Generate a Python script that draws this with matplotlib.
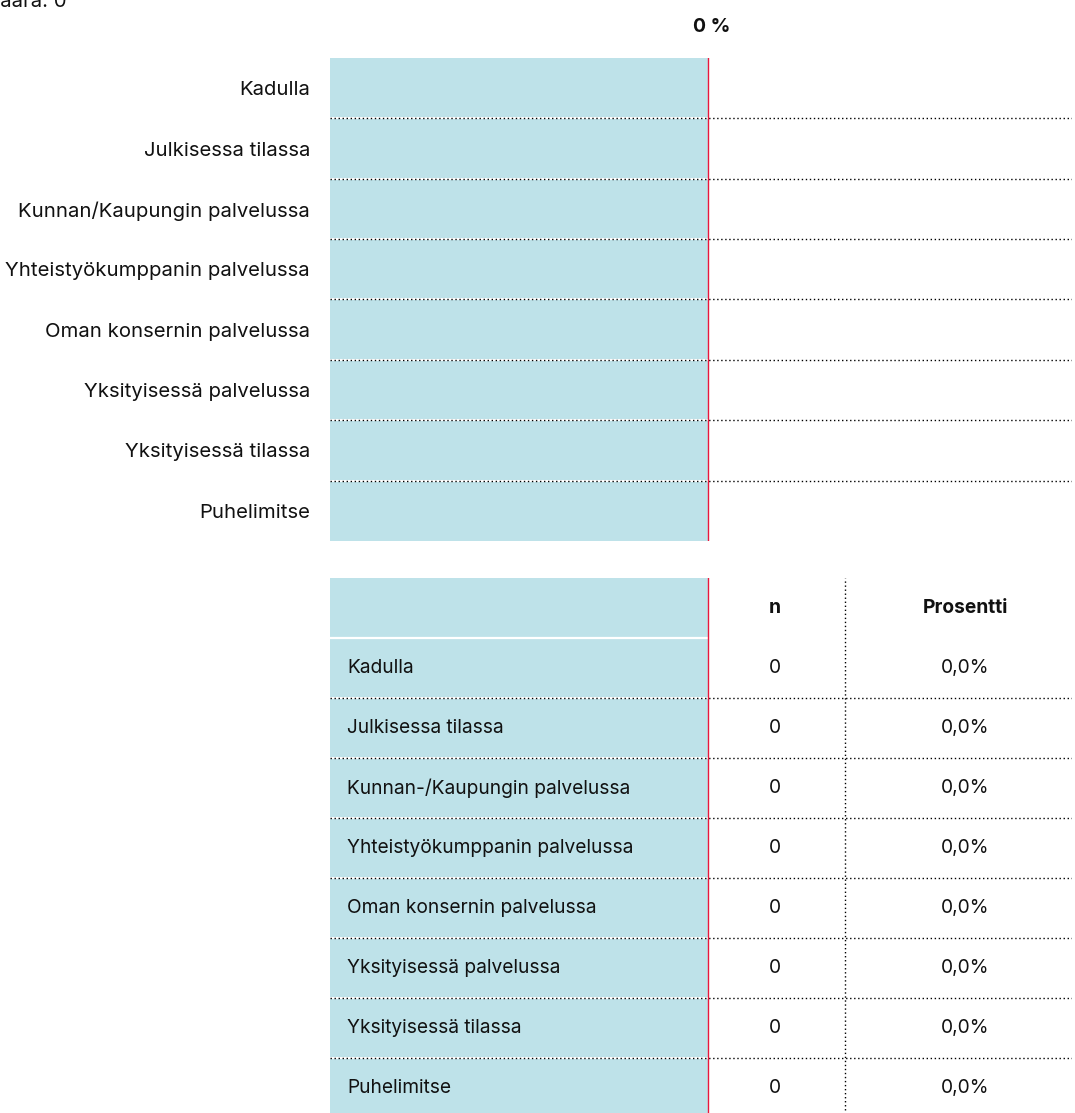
import matplotlib
matplotlib.use('Agg')
import matplotlib.pyplot as plt
import numpy as np

# ---- data ----
categories = ["Kadulla", "Julkisessa tilassa", "Kunnan/Kaupungin palvelussa",
              "Yhteistyökumppanin palvelussa", "Oman konsernin palvelussa",
              "Yksityisessä palvelussa", "Yksityisessä tilassa", "Puhelimitse"]
table_labels = ["Kadulla", "Julkisessa tilassa", "Kunnan-/Kaupungin palvelussa",
                "Yhteistyökumppanin palvelussa", "Oman konsernin palvelussa",
                "Yksityisessä palvelussa", "Yksityisessä tilassa", "Puhelimitse"]
counts = [0, 0, 0, 0, 0, 0, 0, 0]
percents = [0.0, 0.0, 0.0, 0.0, 0.0, 0.0, 0.0, 0.0]
total_label = "Määrä: 0"
axis_tick_label = "0 %"
col_headers = ["n", "Prosentti"]

# ---- style ----
plt.rcParams['font.family'] = ['Inter', 'DejaVu Sans']
BLUE = '#bee2e9'
RED = '#e8173c'
INK = '#111111'
DOT = dict(color='#000000', lw=1.0, linestyle=(0, (1, 1.9)))
FS_TOP = 14.6
FS_TAB = 13.8

W, H = 1075, 1113
fig = plt.figure(figsize=(W / 100, H / 100), dpi=100)


def fx(px):
    return px / W


def fy(py):
    return 1 - py / H


L, R = 330, 1072
ZERO = 708
PX_PER_PCT = (ZERO - L) / 100.0

# ---- top chart ----
top, bot = 58, 541
ax = fig.add_axes([fx(L), fy(bot), (R - L) / W, (bot - top) / H])
n = len(categories)
y = np.arange(n)
ax.barh(y, [-100] * n, height=1.0, color=BLUE, zorder=1)
ax.barh(y, percents, height=0.6, color=RED, zorder=2)
for b in y[:-1] + 0.5:
    ax.plot([-100, 0], [b, b], color='white', lw=1.4, zorder=3, solid_capstyle='butt')
    ax.axhline(b, zorder=4, **DOT)
ax.axvline(0, color=RED, lw=1.0, zorder=5)
ax.set_xlim(-100, (R - ZERO) / PX_PER_PCT)
ax.set_ylim(n - 0.5, -0.5)
ax.set_yticks(y, categories)
ax.tick_params(axis='y', length=0, pad=14.4, labelsize=FS_TOP, labelcolor=INK)
ax.set_xticks([])
ax.annotate(axis_tick_label, xy=(0, 1), xycoords=('data', 'axes fraction'),
            xytext=(4, 31), textcoords='offset pixels', ha='center', va='center',
            fontsize=14, fontweight='bold', color=INK)
for s in ax.spines.values():
    s.set_visible(False)

fig.text(fx(67), fy(7), total_label, ha='right', va='baseline', fontsize=FS_TOP, color=INK)

# ---- table ----
ttop = 578
row_h = 60
tbot = ttop + row_h * (n + 1)
ax2 = fig.add_axes([fx(L), fy(tbot), (R - L) / W, (tbot - ttop) / H])
ax2.set_xlim(L, R)
ax2.set_ylim(n - 0.5, -1.5)
rows = np.arange(-1, n)
ax2.barh(rows, [ZERO - L] * len(rows), left=L, height=1.0, color=BLUE, zorder=1)
ax2.plot([L, ZERO], [-0.5, -0.5], color='white', lw=1.6, zorder=3)
for b in np.arange(n - 1) + 0.5:
    ax2.plot([L, ZERO], [b, b], color='white', lw=1.4, zorder=3, solid_capstyle='butt')
    ax2.axhline(b, zorder=4, **DOT)
ax2.axvline(ZERO, color=RED, lw=1.0, zorder=5)
ax2.axvline(845, zorder=4, **DOT)
COL_N, COL_P = 775, 965
ax2.text(COL_N, -1, col_headers[0], ha='center', va='center', fontsize=FS_TAB, fontweight='bold', color=INK)
ax2.text(COL_P, -1, col_headers[1], ha='center', va='center', fontsize=FS_TAB, fontweight='bold', color=INK)
for i, (lab, c, p) in enumerate(zip(table_labels, counts, percents)):
    ax2.text(347, i, lab, ha='left', va='center', fontsize=FS_TAB, color=INK)
    ax2.text(COL_N, i, str(c), ha='center', va='center', fontsize=FS_TAB, color=INK)
    ax2.text(COL_P, i, f"{p:.1f}".replace('.', ',') + '%', ha='center', va='center', fontsize=FS_TAB, color=INK)
ax2.set_xticks([])
ax2.set_yticks([])
for s in ax2.spines.values():
    s.set_visible(False)

fig.savefig('out.png', dpi=100)
